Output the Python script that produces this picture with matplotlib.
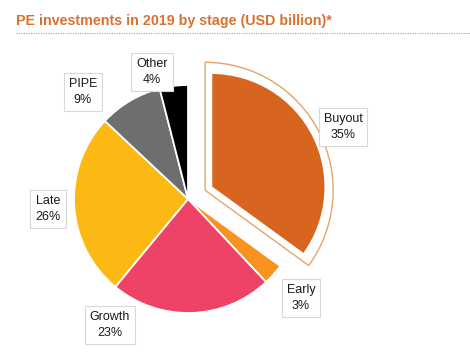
import numpy as np
import matplotlib
matplotlib.use("Agg")
import matplotlib.pyplot as plt
from matplotlib.patches import Wedge

categories = ["Buyout", "Early", "Growth", "Late", "PIPE", "Other"]
shares = [35, 3, 23, 26, 9, 4]
colors = ["#D8651F", "#F7931E", "#EE4366", "#FDB913", "#6D6E70", "#000000"]
explode = [0.23, 0, 0, 0, 0, 0]
title = "PE investments in 2019 by stage (USD billion)*"

# label box centres in pixels (x, y from top)
label_pos = [(343, 127), (301, 298), (110, 325), (48, 209), (83, 92), (152, 72)]

W, H = 470, 361
fig = plt.figure(figsize=(W / 100, H / 100), dpi=100)
plt.rcParams['font.family'] = ['Liberation Sans', 'DejaVu Sans']

scale = 114.0
cx, cy = 188.0, H - 199.0
ax = fig.add_axes([0, 0, 1, 1])
wedges, _ = ax.pie(shares, colors=colors, startangle=90, counterclock=False,
                   explode=explode, radius=1.0,
                   wedgeprops=dict(edgecolor="white", linewidth=1.3))

# outline around exploded Buyout slice
b = wedges[0]
mid = np.deg2rad(0.5 * (b.theta1 + b.theta2))
t = 7 / scale
oc = (b.center[0] - t * np.cos(mid), b.center[1] - t * np.sin(mid))
outline = Wedge(oc, b.r + 14 / scale, b.theta1, b.theta2, facecolor="white",
                edgecolor="#E6A468", linewidth=1.0, zorder=0.5)
ax.add_patch(outline)
for w in wedges:
    w.set_zorder(1)

ax.set_xlim(-cx / scale, (W - cx) / scale)
ax.set_ylim(-cy / scale, (H - cy) / scale)
ax.set_aspect('auto')
ax.axis('off')

for cat, val, (px, py) in zip(categories, shares, label_pos):
    fig.text(px / W, 1 - py / H, f"{cat}\n{val}%", ha="center", va="center",
             fontsize=9, color="#1a1a1a", linespacing=1.35,
             bbox=dict(boxstyle="square,pad=0.4", facecolor="white",
                       edgecolor="#D8D8D8", linewidth=0.8))

fig.text(16 / W, 1 - 21 / H, title, ha="left", va="center", fontsize=10.3,
         fontweight="bold", color="#D9722F")
fig.add_artist(plt.Line2D([16 / W, 1.0], [1 - 33 / H, 1 - 33 / H],
                          transform=fig.transFigure, color="#D09070",
                          linewidth=0.8, linestyle=(0, (1, 1.2))))

fig.savefig("out.png", dpi=100)
